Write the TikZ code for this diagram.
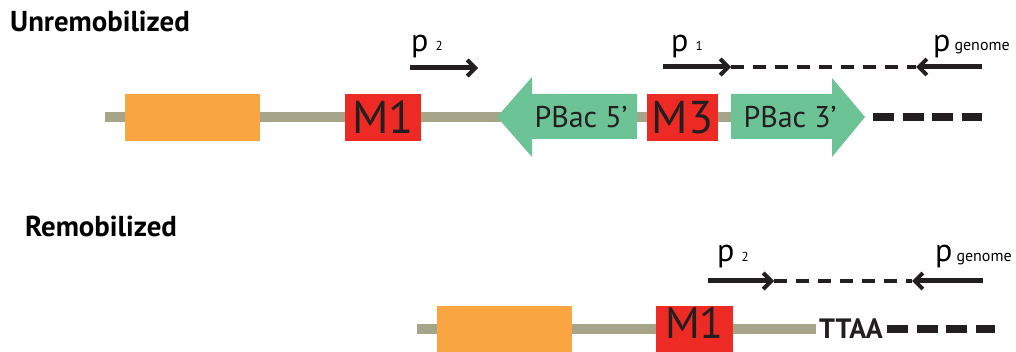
\documentclass[tikz,border=0pt]{standalone}
\usepackage{fontspec}
\setmainfont{PT Sans}
\usepackage{graphicx}
\usetikzlibrary{arrows.meta}
\definecolor{gline}{RGB}{166,165,138}
\definecolor{orng}{RGB}{249,165,65}
\definecolor{redb}{RGB}{238,42,36}
\definecolor{grn}{RGB}{108,196,150}
\definecolor{blk}{RGB}{35,31,32}
\begin{document}
\begin{tikzpicture}[x=1pt,y=-1pt,
  dna/.style={line width=10pt, draw=gline},
  obox/.style={fill=orng, draw=none, inner sep=0pt, minimum width=135pt, minimum height=47pt},
  mbox/.style={fill=redb, draw=none, inner sep=0pt, minimum height=47pt, text=blk, font=\fontsize{46}{46}\selectfont},
  pbac/.style={fill=grn, draw=none},
  arrowtxt/.style={inner sep=0pt, text=blk, font=\fontsize{30}{30}\selectfont},
  title/.style={inner sep=0pt, anchor=base west, text=black, font=\bfseries\fontsize{28.8}{29}\selectfont},
  plabel/.style={inner sep=0pt, anchor=base west, text=black, font=\fontsize{32}{32}\selectfont},
  primer/.style={line width=5pt, draw=blk, -{Straight Barb[length=8pt,width=16pt,line width=4pt]}},
  thindash/.style={line width=3.5pt, draw=blk, dash pattern=on 13pt off 9pt},
  thickdash/.style={line width=8pt, draw=blk, dash pattern=on 21pt off 8.5pt},
]
\useasboundingbox (0,0) rectangle (1016,352);
\fill[white] (0,0) rectangle (1016,352);

% ---------- Unremobilized ----------
\node[title] (t1) at (10,32) {Unremobilized};

\coordinate (d1a) at (105,117);
\coordinate (d1b) at (740,117);
\draw[dna] (d1a) -- (d1b);

\node[obox] (or1) at (192.5,117.5) {};
\node[mbox, minimum width=76pt] (m1) at (383,117.5) {M1};

\fill[pbac] (637,94) -- (532,94) -- (532,77) -- (497,117) -- (532,157) -- (532,139) -- (637,139) -- cycle;
\node[arrowtxt] (p5) at (581,117) {PBac 5\textquoteright};

\node[mbox, minimum width=71pt] (m3) at (682.5,117.5) {M3};

\fill[pbac] (731,94) -- (832,94) -- (832,78) -- (865,117) -- (832,157) -- (832,139) -- (731,139) -- cycle;
\node[arrowtxt] (p3) at (790,117) {PBac 3\textquoteright};

\coordinate (g1a) at (873,117);
\coordinate (g1b) at (982,117);
\draw[thickdash] (g1a) -- (g1b);

% primers top
\coordinate (a2s) at (410,68);
\coordinate (a2e) at (478,68);
\draw[primer] (a2s) -- (a2e);
\node[plabel] (l2) at (411,52) {p\hspace{7pt}\raisebox{1pt}{\fontsize{13}{13}\selectfont 2}};

\coordinate (a1s) at (663,67);
\coordinate (a1e) at (731,67);
\draw[primer] (a1s) -- (a1e);
\node[plabel] (l1) at (671,52) {p\hspace{7pt}\raisebox{1pt}{\fontsize{13}{13}\selectfont 1}};

\coordinate (ags) at (982,67);
\coordinate (age) at (916,67);
\draw[primer] (ags) -- (age);
\node[plabel] (lg) at (933,52) {p\hspace{4pt}\raisebox{1pt}{\fontsize{16}{16}\selectfont genome}};

\draw[thindash] (a1e) -- (age);

% ---------- Remobilized ----------
\node[title] (t2) at (25,237) {Remobilized};

\coordinate (d2a) at (417,328.5);
\coordinate (d2b) at (816,328.5);
\draw[dna] (d2a) -- (d2b);

\node[obox, minimum height=46pt] (or2) at (504.5,328.5) {};
\node[mbox, minimum width=77pt, minimum height=46pt] (m1b) at (694.5,328.5) {};
\node[inner sep=0pt, anchor=base, text=blk, font=\fontsize{44}{44}\selectfont] (m1bt) at (694.5,338) {M1};

\node[inner sep=0pt, text=blk, font=\bfseries\fontsize{28}{28}\selectfont] (ttaa) at (851,329) {TTAA};

\coordinate (g2a) at (887,329);
\coordinate (g2b) at (995,329);
\draw[thickdash] (g2a) -- (g2b);

\coordinate (b2s) at (708,281);
\coordinate (b2e) at (774,281);
\draw[primer] (b2s) -- (b2e);
\node[plabel] (lb2) at (717,262) {p\hspace{7pt}\raisebox{1pt}{\fontsize{13}{13}\selectfont 2}};

\coordinate (bgs) at (983,281);
\coordinate (bge) at (912,281);
\draw[primer] (bgs) -- (bge);
\node[plabel] (lbg) at (935,262) {p\hspace{4pt}\raisebox{1pt}{\fontsize{16}{16}\selectfont genome}};

\draw[thindash] (b2e) -- (bge);
\end{tikzpicture}
\end{document}
